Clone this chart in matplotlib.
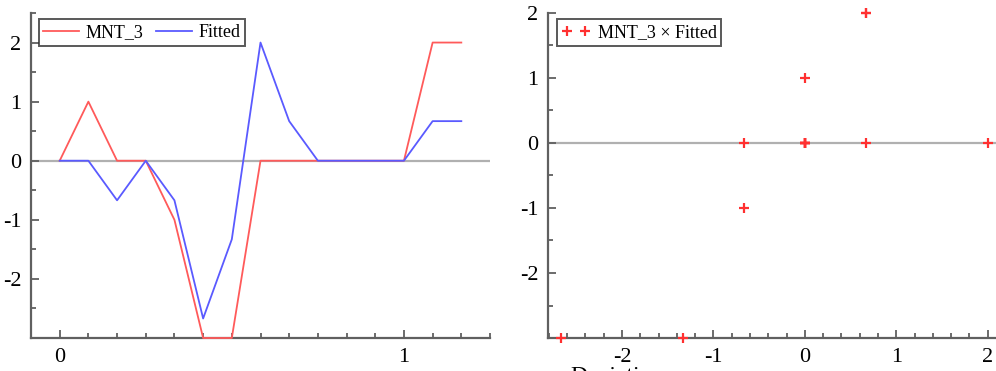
import matplotlib
matplotlib.use("Agg")
import matplotlib.pyplot as plt
from matplotlib.ticker import MultipleLocator, FixedLocator

plt.rcParams['font.family'] = ['Liberation Serif', 'DejaVu Serif']
plt.rcParams['axes.unicode_minus'] = False

# monthly observations expressed in years
t = [i / 12 for i in range(15)]
mnt_3 = [0, 1, 0, 0, -1, -3, -3, 0, 0, 0, 0, 0, 0, 2, 2]
fitted = [0, 0, -0.67, 0, -0.67, -2.67, -1.33, 2.0, 0.67, 0, 0, 0, 0, 0.67, 0.67]

left_yticks = [-2, -1, 0, 1, 2]
left_xticks = [0, 1]
right_xticks = [-2, -1, 0, 1, 2]
right_yticks = [-2, -1, 0, 1, 2]

RED = '#ff5a5a'
BLUE = '#5a5aff'
SPINE = '#606060'
W, H = 996, 371

fig = plt.figure(figsize=(W / 100, H / 100), dpi=100)


def px_axes(x0, x1, y0, y1):
    return fig.add_axes([x0 / W, 1 - y1 / H, (x1 - x0) / W, (y1 - y0) / H])


def style(ax):
    for s in ('top', 'right'):
        ax.spines[s].set_visible(False)
    for s in ('left', 'bottom'):
        ax.spines[s].set_color(SPINE)
        ax.spines[s].set_linewidth(1.6)
    ax.tick_params(which='both', direction='in', color=SPINE, width=1.3,
                   labelsize=16, pad=7)
    ax.tick_params(which='major', length=6)
    ax.tick_params(which='minor', length=3.5)
    ax.axhline(0, color='#b0b0b0', lw=1.6, zorder=1)


# time series panel
ax1 = px_axes(31, 490, 13, 338)
style(ax1)
ax1.plot(t, mnt_3, color=RED, lw=1.3, label='MNT_3', zorder=3, clip_on=False)
ax1.plot(t, fitted, color=BLUE, lw=1.3, label='Fitted', zorder=3)
ax1.set_xlim(-1 / 12, 1.25)
ax1.set_ylim(-3, 2.5)
ax1.xaxis.set_major_locator(FixedLocator(left_xticks))
ax1.xaxis.set_minor_locator(MultipleLocator(1 / 12))
ax1.yaxis.set_major_locator(FixedLocator(left_yticks))
ax1.yaxis.set_minor_locator(MultipleLocator(0.5))
leg1 = ax1.legend(loc='upper left', ncol=2, fontsize=13, frameon=True,
                  fancybox=False, edgecolor='#303030', borderpad=0.25,
                  handlelength=2.0, handletextpad=0.35, columnspacing=0.7,
                  bbox_to_anchor=(0.017, 0.98), borderaxespad=0)
leg1.get_frame().set_linewidth(1.4)

# scatter panel
ax2 = px_axes(548, 996, 13, 338)
style(ax2)
ax2.plot(fitted, mnt_3, linestyle='none', marker='+', color='#ff3030',
         markersize=7, markeredgewidth=1.6, label='MNT_3 \u00d7 Fitted',
         zorder=3, clip_on=False)
ax2.set_xlim(-2.81, 2.09)
ax2.set_ylim(-3, 2)
ax2.xaxis.set_major_locator(FixedLocator(right_xticks))
ax2.xaxis.set_minor_locator(MultipleLocator(0.2))
ax2.yaxis.set_major_locator(FixedLocator(right_yticks))
ax2.yaxis.set_minor_locator(MultipleLocator(0.5))
leg2 = ax2.legend(loc='upper left', numpoints=2, fontsize=13, frameon=True,
                  fancybox=False, edgecolor='#303030', borderpad=0.25,
                  handlelength=1.6, handletextpad=0.4,
                  bbox_to_anchor=(0.02, 0.98), borderaxespad=0)
leg2.get_frame().set_linewidth(1.4)

fig.text(570 / W, 1 - 366 / H, 'Deviation', fontsize=17, ha='left', va='top')

fig.savefig('out.png', dpi=100, facecolor='white')
